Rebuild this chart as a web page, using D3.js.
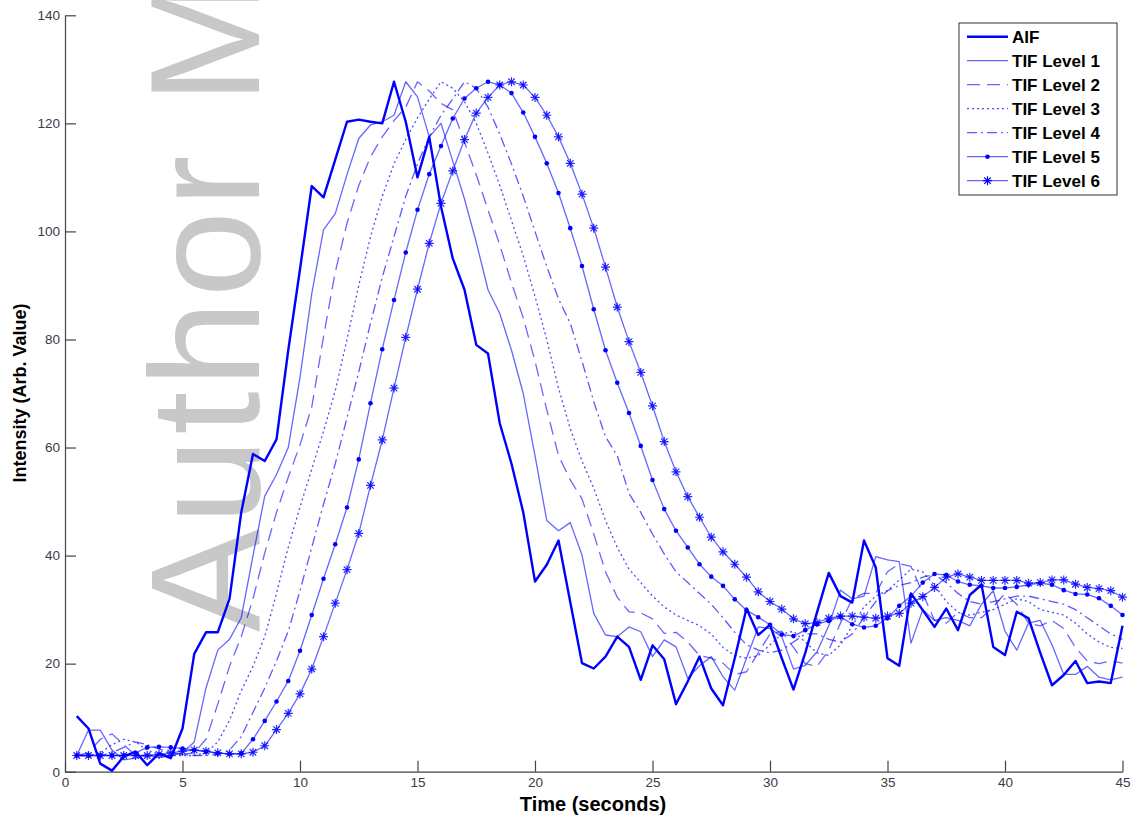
<!DOCTYPE html>
<html>
<head>
<meta charset="utf-8">
<title>AIF and TIF curves</title>
<script src="https://cdn.jsdelivr.net/npm/d3@7"></script>
<style>
  body { margin: 0; background: #fff; }
  svg { display: block; font-family: Arial, "Liberation Sans", sans-serif; }
</style>
</head>
<body>
<div id="chart"></div>
<script>
// Sample times (seconds)
const times = [
  0.5, 1, 1.5, 2, 2.5, 3, 3.5, 4, 4.5, 5,
  5.5, 6, 6.5, 7, 7.5, 8, 8.5, 9, 9.5, 10,
  10.5, 11, 11.5, 12, 12.5, 13, 13.5, 14, 14.5, 15,
  15.5, 16, 16.5, 17, 17.5, 18, 18.5, 19, 19.5, 20,
  20.5, 21, 21.5, 22, 22.5, 23, 23.5, 24, 24.5, 25,
  25.5, 26, 26.5, 27, 27.5, 28, 28.5, 29, 29.5, 30,
  30.5, 31, 31.5, 32, 32.5, 33, 33.5, 34, 34.5, 35,
  35.5, 36, 36.5, 37, 37.5, 38, 38.5, 39, 39.5, 40,
  40.5, 41, 41.5, 42, 42.5, 43, 43.5, 44, 44.5, 45
];

const aif = [
  10.3, 8.0, 1.5, 0.2, 2.8, 3.7, 1.2, 3.4, 2.5, 8.0,
  21.8, 25.8, 25.8, 32.0, 48.0, 58.8, 57.5, 61.5, 78.0, 93.0,
  108.4, 106.3, 113.3, 120.3, 120.7, 120.3, 120.0, 127.7, 120.3, 110.0,
  117.5, 104.6, 95.0, 89.2, 79.0, 77.4, 64.5, 57.0, 48.0, 35.2,
  38.3, 42.8, 31.4, 20.1, 19.1, 21.3, 25.0, 23.1, 17.0, 23.4,
  20.8, 12.5, 16.7, 21.3, 15.4, 12.3, 21.0, 30.2, 25.3, 27.2,
  21.0, 15.2, 22.0, 29.5, 36.8, 32.5, 31.3, 42.8, 37.8, 21.0,
  19.6, 33.0, 29.9, 26.8, 30.2, 26.2, 32.7, 34.6, 23.1, 21.6,
  29.6, 28.4, 22.0, 16.0, 17.9, 20.5, 16.4, 16.7, 16.4, 27.0
];

const tif1 = [
  3.0, 7.7, 7.7, 4.0, 2.2, 2.5, 3.3, 2.6, 3.0, 3.5,
  5.5, 15.5, 22.5, 24.5, 28.5, 40.0, 51.0, 55.0, 60.0, 73.0,
  88.5, 100.3, 103.3, 110.5, 117.2, 119.7, 120.3, 121.5, 127.7, 124.9,
  117.5, 120.0, 113.0, 106.0, 98.0, 89.2, 84.8, 78.0, 70.0, 58.5,
  46.5, 44.6, 46.1, 40.1, 29.3, 25.3, 25.0, 26.8, 25.9, 21.3,
  24.4, 23.1, 17.3, 19.6, 21.3, 17.6, 15.1, 21.0, 26.8, 26.5,
  25.0, 19.0, 19.7, 22.2, 27.0, 33.6, 32.0, 32.5, 39.8, 39.2,
  38.9, 23.8, 30.0, 28.0, 28.5, 28.0, 27.0, 31.0, 33.5, 26.0,
  22.5, 27.5, 28.0, 23.5, 18.0, 18.0, 19.5, 17.5, 17.0, 17.5
];

const tif2 = [
  3.0, 3.5, 6.0, 7.0, 5.0, 3.0, 2.8, 3.0, 3.0, 3.2,
  3.5, 6.0, 12.5, 19.5, 25.0, 32.0, 40.5, 48.0, 54.5, 60.5,
  67.5, 80.5, 92.5, 101.5, 108.5, 113.8, 117.5, 120.5, 123.0, 127.7,
  126.0, 123.7, 122.5, 116.5, 110.5, 104.0, 97.5, 90.5, 84.0, 76.0,
  67.0, 58.5, 54.0, 50.5, 44.0, 37.0, 32.3, 29.6, 29.4, 28.3,
  25.6, 25.8, 24.0, 21.5, 21.0, 20.1, 18.0, 18.5, 22.0, 25.5,
  26.0, 23.0, 20.0, 19.5, 22.5, 27.5, 32.0, 33.0, 33.0, 37.0,
  38.5, 38.0, 33.0, 28.0, 27.5, 29.5, 28.5, 28.5, 30.5, 33.0,
  31.0, 27.5, 27.0, 28.0, 26.5, 23.0, 20.5, 20.0, 20.5, 20.1
];

const tif3 = [
  3.0, 3.0, 3.5, 5.0, 6.0, 5.5, 4.0, 3.2, 3.0, 3.0,
  3.0, 3.5, 5.5, 9.5, 15.0, 19.5, 25.0, 33.0, 41.5, 49.0,
  56.0, 63.0, 70.5, 80.0, 90.0, 99.0, 106.5, 112.5, 117.0, 121.0,
  124.5, 127.7, 126.5, 124.0, 120.0, 114.5, 108.5, 102.0, 95.5, 88.0,
  80.0, 71.0, 63.5, 57.5, 52.5, 46.5, 41.5, 37.5, 35.0, 32.5,
  30.5, 29.0, 28.0, 27.0, 25.5, 23.0, 21.5, 21.0, 21.5, 23.5,
  25.5, 26.0, 24.0, 22.0, 21.5, 23.5, 27.0, 30.5, 32.5, 33.5,
  35.5, 37.5, 37.0, 34.5, 31.5, 29.5, 29.0, 29.5, 30.0, 31.0,
  32.0, 31.5, 30.0, 29.5, 29.0, 27.5, 25.5, 24.0, 23.0, 22.8
];

const tif4 = [
  3.0, 3.0, 3.0, 3.5, 4.5, 5.5, 5.0, 4.2, 3.5, 3.2,
  3.0, 3.0, 3.2, 4.0, 6.5, 11.0, 15.5, 20.5, 26.0, 33.5,
  41.5, 49.5, 57.0, 65.5, 74.0, 83.0, 91.5, 99.0, 106.5, 112.5,
  117.5, 121.5, 124.5, 127.7, 126.5, 123.0, 118.0, 112.5, 106.5, 100.0,
  93.5, 87.5, 83.0, 76.0, 68.5, 62.0, 58.5, 51.5, 48.0, 44.0,
  40.3, 37.0, 35.0, 33.0, 31.0, 28.5, 25.8, 23.5, 22.5, 22.0,
  22.5, 24.0, 25.5, 25.5, 24.5, 24.0, 25.5, 28.5, 31.5, 33.5,
  34.5, 35.0, 36.0, 36.5, 35.0, 33.0, 31.5, 31.0, 31.5, 32.0,
  32.5, 32.5, 32.0, 31.5, 31.0, 30.0, 28.5, 27.0, 25.5, 24.5
];

const tif5 = [
  3.0, 3.0, 3.0, 3.0, 3.0, 3.5, 4.5, 4.6, 4.5, 4.3,
  4.0, 3.7, 3.4, 3.3, 3.4, 6.0, 9.4, 13.0, 16.8, 22.4,
  29.0, 35.7, 42.1, 48.9, 57.8, 68.2, 78.2, 87.3, 96.1, 104.0,
  110.6, 115.8, 120.9, 124.6, 126.5, 127.7, 127.1, 125.6, 122.0, 117.5,
  112.6, 107.1, 100.6, 93.6, 85.6, 78.0, 72.0, 66.4, 60.3, 54.0,
  48.6, 44.6, 41.5, 38.4, 36.1, 34.4, 31.9, 29.9, 28.6, 27.2,
  25.4, 25.1, 26.2, 27.3, 27.9, 28.7, 27.3, 26.7, 27.0, 28.4,
  30.7, 32.5, 35.0, 36.6, 36.4, 35.2, 34.6, 34.4, 34.0, 34.0,
  34.2, 34.6, 34.9, 34.6, 33.6, 32.9, 32.8, 32.1, 30.7, 29.0
];

const tif6 = [
  3.0, 3.0, 3.0, 3.0, 3.0, 3.0, 3.0, 3.2, 3.5, 3.8,
  4.0, 3.8, 3.5, 3.3, 3.3, 3.6, 4.8, 7.8, 10.8, 14.4,
  19.0, 25.0, 31.2, 37.4, 44.1, 53.0, 61.4, 71.0, 80.4, 89.3,
  97.8, 105.2, 111.2, 117.0, 121.9, 124.8, 127.1, 127.7, 127.1, 124.8,
  121.5, 117.5, 112.6, 106.9, 100.6, 93.4, 86.0, 79.6, 73.9, 67.7,
  61.1, 55.5, 50.9, 47.1, 43.4, 40.7, 38.4, 36.0, 33.3, 31.5,
  30.1, 28.3, 27.4, 27.6, 28.4, 28.8, 28.8, 28.6, 28.4, 28.8,
  29.3, 31.2, 32.4, 34.1, 36.0, 36.6, 36.0, 35.4, 35.4, 35.4,
  35.4, 34.9, 35.0, 35.5, 35.5, 34.7, 34.1, 33.9, 33.5, 32.3
];

const seriesNames = ['AIF', 'TIF Level 1', 'TIF Level 2', 'TIF Level 3', 'TIF Level 4', 'TIF Level 5', 'TIF Level 6'];
const seriesValues = [aif, tif1, tif2, tif3, tif4, tif5, tif6];
const xTicks = [0, 5, 10, 15, 20, 25, 30, 35, 40, 45];
const yTicks = [0, 20, 40, 60, 80, 100, 120, 140];

class CurveChart {
  constructor(_config) {
    this.config = {
      parentElement: _config.parentElement,
      containerWidth: 1131,
      containerHeight: 821,
      margin: { top: 15.3, right: 8.5, bottom: 49.3, left: 65 }
    };
    // line look for each series, same order as seriesNames
    this.styles = [
      { width: 2.4, opacity: 1, dash: null, marker: null },
      { width: 1.3, opacity: 0.6, dash: null, marker: null },
      { width: 1.3, opacity: 0.6, dash: '13,7', marker: null },
      { width: 1.3, opacity: 0.7, dash: '2,3', marker: null },
      { width: 1.3, opacity: 0.65, dash: '10,4,2,4', marker: null },
      { width: 1.3, opacity: 0.6, dash: null, marker: 'dot' },
      { width: 1.3, opacity: 0.6, dash: null, marker: 'star' }
    ];
    this.initVis();
  }

  initVis() {
    let vis = this;

    vis.config.width = vis.config.containerWidth - vis.config.margin.left - vis.config.margin.right;
    vis.config.height = vis.config.containerHeight - vis.config.margin.top - vis.config.margin.bottom;

    vis.svg = d3.select(vis.config.parentElement)
      .append('svg')
      .attr('width', vis.config.containerWidth)
      .attr('height', vis.config.containerHeight);

    // grey watermark sits behind everything (runs off the top, as in the scan)
    vis.svg.append('text')
      .attr('transform', 'translate(259,632) rotate(-90)')
      .attr('font-size', 155)
      .attr('letter-spacing', 4)
      .attr('fill', '#c8c8c8')
      .text('Author Manuscript');

    vis.chart = vis.svg.append('g')
      .attr('transform', `translate(${vis.config.margin.left},${vis.config.margin.top})`);

    vis.xScale = d3.scaleLinear().domain([0, 45]).range([0, vis.config.width]);
    vis.yScale = d3.scaleLinear().domain([0, 140]).range([vis.config.height, 0]);

    // ticks point inward, like the matlab figure
    vis.xAxis = d3.axisBottom(vis.xScale)
      .tickValues(xTicks)
      .tickSizeInner(-11)
      .tickSizeOuter(0)
      .tickPadding(6);

    vis.yAxis = d3.axisLeft(vis.yScale)
      .tickValues(yTicks)
      .tickSizeInner(-11)
      .tickSizeOuter(0)
      .tickPadding(5);

    vis.xAxisG = vis.chart.append('g')
      .attr('transform', `translate(0,${vis.config.height})`)
      .call(vis.xAxis);

    vis.yAxisG = vis.chart.append('g')
      .call(vis.yAxis);

    [vis.xAxisG, vis.yAxisG].forEach(g => {
      g.select('.domain').attr('stroke', '#444').attr('stroke-width', 1.2);
      g.selectAll('.tick line').attr('stroke', '#444').attr('stroke-width', 1.2);
      g.selectAll('.tick text')
        .attr('fill', '#3a3a48')
        .attr('font-size', 13.5)
        .attr('font-family', 'Arial, "Liberation Sans", sans-serif');
    });

    vis.svg.append('text')
      .attr('x', 593)
      .attr('y', 811)
      .attr('text-anchor', 'middle')
      .attr('font-size', 20)
      .attr('font-weight', 'bold')
      .attr('fill', '#000')
      .text('Time (seconds)');

    vis.svg.append('text')
      .attr('transform', 'translate(26,393) rotate(-90)')
      .attr('text-anchor', 'middle')
      .attr('font-size', 18)
      .attr('font-weight', 'bold')
      .attr('fill', '#000')
      .text('Intensity (Arb. Value)');

    vis.updateVis();
  }

  updateVis() {
    let vis = this;

    vis.series = seriesNames.map((name, i) => ({
      name: name,
      style: vis.styles[i],
      points: times.map((t, j) => ({ t: t, v: seriesValues[i][j] }))
    }));

    vis.renderVis();
  }

  renderVis() {
    let vis = this;

    const line = d3.line()
      .x(d => vis.xScale(d.t))
      .y(d => vis.yScale(d.v));

    // draw TIFs first so the AIF sits on top
    const order = vis.series.slice(1).concat(vis.series[0]);

    const groups = vis.chart.selectAll('.series')
      .data(order)
      .join('g')
      .attr('class', 'series');

    groups.append('path')
      .attr('fill', 'none')
      .attr('stroke', '#0000ff')
      .attr('stroke-linejoin', 'round')
      .attr('stroke-width', d => d.style.width)
      .attr('stroke-opacity', d => d.style.opacity)
      .attr('stroke-dasharray', d => d.style.dash)
      .attr('d', d => line(d.points));

    groups.filter(d => d.style.marker === 'dot')
      .selectAll('circle')
      .data(d => d.points)
      .join('circle')
      .attr('cx', d => vis.xScale(d.t))
      .attr('cy', d => vis.yScale(d.v))
      .attr('r', 2.3)
      .attr('fill', '#0000ff');

    groups.filter(d => d.style.marker === 'star')
      .selectAll('path.star')
      .data(d => d.points)
      .join('path')
      .attr('class', 'star')
      .attr('d', starPath(4.5))
      .attr('transform', d => `translate(${vis.xScale(d.t)},${vis.yScale(d.v)})`)
      .attr('stroke', '#0000ff')
      .attr('stroke-opacity', 0.85)
      .attr('stroke-width', 1.2)
      .attr('fill', 'none');

    // legend box
    const lg = vis.svg.append('g').attr('transform', 'translate(959,23)');
    lg.append('rect')
      .attr('width', 158)
      .attr('height', 172)
      .attr('fill', '#fff')
      .attr('stroke', '#333')
      .attr('stroke-width', 1);

    const item = lg.selectAll('.legend')
      .data(vis.series)
      .join('g')
      .attr('class', 'legend')
      .attr('transform', (d, i) => `translate(0,${13.7 + i * 24})`);

    item.append('line')
      .attr('x1', 8)
      .attr('x2', 49)
      .attr('stroke', '#0000ff')
      .attr('stroke-width', d => d.style.width)
      .attr('stroke-opacity', d => d.style.opacity)
      .attr('stroke-dasharray', d => d.style.dash);

    item.filter(d => d.style.marker === 'dot')
      .append('circle')
      .attr('cx', 28.5)
      .attr('r', 2.3)
      .attr('fill', '#0000ff');

    item.filter(d => d.style.marker === 'star')
      .append('path')
      .attr('d', starPath(4.5))
      .attr('transform', 'translate(28.5,0)')
      .attr('stroke', '#0000ff')
      .attr('stroke-width', 1.2)
      .attr('fill', 'none');

    item.append('text')
      .attr('x', 53)
      .attr('dy', '0.35em')
      .attr('font-size', 17)
      .attr('font-weight', 'bold')
      .attr('fill', '#000')
      .text(d => d.name);
  }
}

// asterisk marker: plus and cross overlaid
function starPath(r) {
  const k = r * 0.72;
  return `M${-r},0L${r},0M0,${-r}L0,${r}M${-k},${-k}L${k},${k}M${-k},${k}L${k},${-k}`;
}

new CurveChart({ parentElement: '#chart' });
</script>
</body>
</html>
